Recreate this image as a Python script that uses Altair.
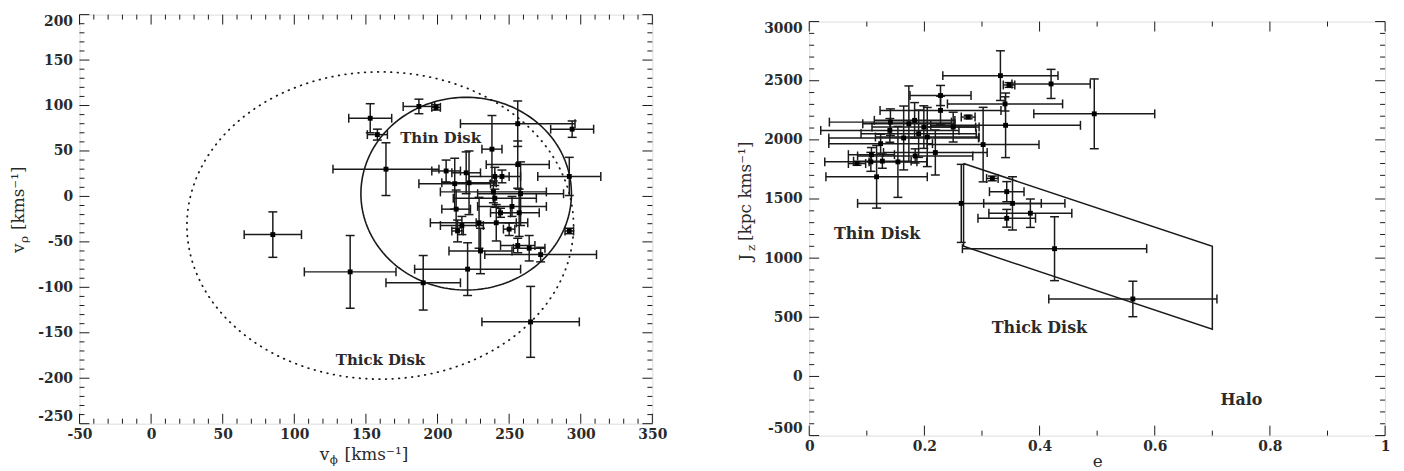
import altair as alt
import pandas as pd

# ---------------- Left panel: v_phi vs v_rho ----------------
vphi     = [153, 187, 199, 158, 164, 256, 294, 238, 256, 292, 206, 220, 212, 222, 245, 240, 239, 258, 240, 213,
            252, 244, 257, 217, 214, 229, 241, 250, 292, 230, 256, 264, 272, 221, 190, 139, 265, 85]
vrho     = [86, 99, 98, 68, 30, 80, 74, 52, 35, 22, 28, 26, 14, 15, 22, 22, 5, 3, -2, -14,
            -11, -18, -18, -32, -38, -29, -29, -36, -38, -60, -54, -57, -64, -80, -95, -83, -138, -42]
vphi_err = [15, 11, 3, 7, 37, 40, 15, 7, 22, 22, 10, 10, 25, 19, 5, 18, 37, 30, 29, 10,
            24, 7, 14, 15, 4, 34, 14, 4, 3, 22, 12, 11, 39, 37, 26, 32, 34, 20]
vrho_err = [16, 8, 3, 6, 29, 25, 9, 37, 26, 21, 12, 23, 28, 35, 7, 10, 12, 35, 10, 21,
            11, 5, 26, 10, 12, 28, 20, 7, 3, 25, 8, 14, 8, 29, 30, 40, 39, 25]

# ellipses (center v_phi, center v_rho, semi-axis phi, semi-axis rho)
thin_ell = (220, 3, 73.5, 106)
thick_ell = (160, -32, 135, 169)

left_labels = [("Thin Disk", 174, 64), ("Thick Disk", 129, -180)]

# ---------------- Right panel: e vs J_z ----------------
ecc     = [0.332, 0.420, 0.347, 0.495, 0.228, 0.340, 0.341, 0.228, 0.276, 0.250, 0.141, 0.173, 0.183, 0.199,
           0.164, 0.205, 0.190, 0.140, 0.124, 0.302, 0.219, 0.184, 0.154, 0.117, 0.083, 0.107, 0.127, 0.108,
           0.264, 0.318, 0.343, 0.353, 0.343, 0.384, 0.426, 0.562]
jz      = [2543, 2473, 2464, 2220, 2375, 2304, 2123, 2249, 2193, 2108, 2150, 2136, 2165, 2108,
           2016, 2024, 2052, 2080, 1968, 1960, 1893, 1864, 1814, 1688, 1800, 1814, 1820, 1875,
           1463, 1674, 1562, 1463, 1337, 1380, 1080, 655]
ecc_err = [0.100, 0.068, 0.010, 0.105, 0.053, 0.100, 0.130, 0.105, 0.012, 0.045, 0.106, 0.080, 0.070, 0.090,
           0.130, 0.090, 0.100, 0.120, 0.090, 0.097, 0.090, 0.100, 0.050, 0.088, 0.015, 0.080, 0.050, 0.040,
           0.180, 0.010, 0.030, 0.050, 0.050, 0.072, 0.160, 0.146]
jz_err  = [210, 123, 20, 295, 85, 60, 273, 120, 15, 126, 112, 320, 150, 180,
           270, 250, 200, 100, 80, 315, 190, 60, 300, 265, 15, 80, 60, 60,
           330, 20, 85, 225, 75, 120, 270, 150]

poly_e  = [0.268, 0.70, 0.70, 0.268, 0.268]
poly_jz = [1800, 1100, 400, 1100, 1800]

right_labels = [("Thin Disk", 0.043, 1204), ("Thick Disk", 0.317, 406), ("Halo", 0.714, -198)]

# ---------------- axes ----------------
lx_major = list(range(-50, 351, 50))
lx_minor = [v for v in range(-50, 351, 10) if v % 50]
ly_major = list(range(-250, 201, 50))
ly_minor = [v for v in range(-250, 201, 10) if v % 50]
rx_major = [0, 0.2, 0.4, 0.6, 0.8, 1]
rx_minor = [0.1, 0.3, 0.5, 0.7, 0.9]
ry_major = list(range(-500, 3001, 500))
ry_minor = [v for v in range(-500, 3001, 100) if v % 500]

FONT = "DejaVu Serif"
INK = "#1a1a1a"
TXT = "#2a2a2a"


def make_panel(xs, ys, xmaj, xmin, ymaj, ymin, W, H, xv, yv, xe, ye, extra_layers, xtitle):
    xaxis = alt.Axis(values=xmaj, ticks=False, domain=False, grid=False, labelFont=FONT,
                     labelFontWeight="bold", labelFontSize=14, labelColor=TXT, labelPadding=4,
                     labelFlush=False, labelOverlap=False,
                     labelExpr="'' + datum.value", title=xtitle, titleFont=FONT, titleFontSize=17,
                     titleFontWeight="normal", titleColor=TXT, titlePadding=0)
    yaxis = alt.Axis(values=ymaj, ticks=False, domain=False, grid=False, labelFont=FONT,
                     labelFontWeight="bold", labelFontSize=14, labelColor=TXT, labelPadding=7,
                     labelFlush=True, labelOverlap=False, labelExpr="'' + datum.value", title=None)
    X = lambda f: alt.X(f, type="quantitative", scale=xs, axis=xaxis)
    Y = lambda f: alt.Y(f, type="quantitative", scale=ys, axis=yaxis)

    df = pd.DataFrame({"x": xv, "y": yv, "xe": xe, "ye": ye})
    df["xlo"] = df.x - df.xe
    df["xhi"] = df.x + df.xe
    df["ylo"] = df.y - df.ye
    df["yhi"] = df.y + df.ye
    capx = pd.DataFrame({"x": list(df.xlo) + list(df.xhi), "y": list(df.y) * 2})
    capy = pd.DataFrame({"x": list(df.x) * 2, "y": list(df.ylo) + list(df.yhi)})

    layers = []
    # frame ticks (inward, all four sides)
    for vals, L in ((xmaj, 10), (xmin, 5)):
        base = alt.Chart(pd.DataFrame({"x": vals})).mark_rule(color=INK, strokeWidth=1)
        layers.append(base.encode(x=X("x"), y=alt.value(H), y2=alt.value(H - L)))
        layers.append(base.encode(x=X("x"), y=alt.value(0), y2=alt.value(L)))
    for vals, L in ((ymaj, 10), (ymin, 5)):
        base = alt.Chart(pd.DataFrame({"y": vals})).mark_rule(color=INK, strokeWidth=1)
        layers.append(base.encode(y=Y("y"), x=alt.value(0), x2=alt.value(L)))
        layers.append(base.encode(y=Y("y"), x=alt.value(W), x2=alt.value(W - L)))

    layers += extra_layers(X, Y)

    pts = alt.Chart(df)
    layers.append(pts.mark_rule(color=INK, strokeWidth=1.5).encode(x=X("xlo"), x2="xhi", y=Y("y")))
    layers.append(pts.mark_rule(color=INK, strokeWidth=1.5).encode(x=X("x"), y=Y("ylo"), y2="yhi"))
    layers.append(alt.Chart(capx).mark_tick(orient="vertical", size=9, thickness=1.5, color=INK, opacity=1)
                  .encode(x=X("x"), y=Y("y")))
    layers.append(alt.Chart(capy).mark_tick(orient="horizontal", size=9, thickness=1.5, color=INK, opacity=1)
                  .encode(x=X("x"), y=Y("y")))
    layers.append(pts.mark_square(size=24, color="black", opacity=1).encode(x=X("x"), y=Y("y")))
    return alt.layer(*layers).properties(width=W, height=H)


def title_piece(text, x, y, size, angle=0):
    kw = dict(text=text, font=FONT, fontSize=size, color=TXT, align="left", baseline="alphabetic")
    if angle:
        kw["angle"] = angle
    return alt.Chart(pd.DataFrame({"k": [0]})).mark_text(**kw).encode(x=alt.value(x), y=alt.value(y))


# ---------- left ----------
LW, LH = 577, 412
lxs = alt.Scale(domain=[-50, 350], nice=False, zero=False)
lys = alt.Scale(domain=[-250, 200], nice=False, zero=False)


def left_extra(X, Y):
    out = []
    for (cx, cy, a, b), dash in ((thick_ell, [0.6, 6]), (thin_ell, None)):
        kw = dict(color=INK, strokeWidth=1.6, strokeCap="round")
        if dash:
            kw["strokeDash"] = dash
            kw["strokeWidth"] = 1.8
        out.append(
            alt.Chart(alt.sequence(0, 362, 2, as_="t"))
            .transform_calculate(x=f"{cx} + {a} * cos(datum.t * PI / 180)",
                                 y=f"{cy} + {b} * sin(datum.t * PI / 180)")
            .mark_line(**kw)
            .encode(x=X("x"), y=Y("y"), order="t:Q")
        )
    lab = pd.DataFrame({"t": [l[0] for l in left_labels], "x": [l[1] for l in left_labels],
                        "y": [l[2] for l in left_labels]})
    out.append(alt.Chart(lab).mark_text(font=FONT, fontWeight="bold", fontSize=15, color=TXT,
                                        align="left", baseline="middle")
               .encode(x=X("x"), y=Y("y"), text="t:N"))
    # axis titles composed from pieces (subscripts)
    out.append(title_piece("v", 242, 449, 17))
    out.append(title_piece("ϕ", 252, 453, 12))
    out.append(title_piece("[kms⁻¹]", 267, 449, 17))
    out.append(title_piece("v", -56, 240, 17, angle=270))
    out.append(title_piece("ρ", -52, 230, 12, angle=270))
    out.append(title_piece("[kms⁻¹]", -56, 217, 17, angle=270))
    return out


left = make_panel(lxs, lys, lx_major, lx_minor, ly_major, ly_minor, LW, LH,
                  vphi, vrho, vphi_err, vrho_err, left_extra, None)

# ---------- right ----------
RW, RH = 580, 417
rxs = alt.Scale(domain=[0, 1], nice=False, zero=False)
rys = alt.Scale(domain=[-500, 3000], nice=False, zero=False)


def right_extra(X, Y):
    out = []
    poly = pd.DataFrame({"x": poly_e, "y": poly_jz, "o": list(range(len(poly_e)))})
    out.append(alt.Chart(poly).mark_line(color=INK, strokeWidth=1.5)
               .encode(x=X("x"), y=Y("y"), order="o:Q"))
    lab = pd.DataFrame({"t": [l[0] for l in right_labels], "x": [l[1] for l in right_labels],
                        "y": [l[2] for l in right_labels]})
    out.append(alt.Chart(lab).mark_text(font=FONT, fontWeight="bold", fontSize=16, color=TXT,
                                        align="left", baseline="middle")
               .encode(x=X("x"), y=Y("y"), text="t:N"))
    out.append(title_piece("J", -59, 241, 17, angle=270))
    out.append(title_piece("z", -55, 231, 12, angle=270))
    out.append(title_piece("[kpc kms⁻¹]", -59, 221, 17, angle=270))
    return out


right = make_panel(rxs, rys, rx_major, rx_minor, ry_major, ry_minor, RW, RH,
                   ecc, jz, ecc_err, jz_err, right_extra, "e")

# small spacer so that the right frame sits a few pixels lower than the left one
spacer = (
    alt.Chart(pd.DataFrame({"k": [0]}))
    .mark_point(size=1, opacity=0)
    .encode(x=alt.value(1), y=alt.value(0.5))
    .properties(width=RW, height=1, view=alt.ViewBackground(stroke="transparent"))
)
right_col = alt.vconcat(spacer, right, spacing=4)

chart = (
    alt.hconcat(left, right_col, spacing=68)
    .properties(padding={"left": 1, "top": 4, "right": 5, "bottom": 0})
    .configure_view(stroke="black", strokeWidth=1.4)
    .configure(background="white")
)

chart.save("out.html", embed_options={"renderer": "svg", "actions": False})
